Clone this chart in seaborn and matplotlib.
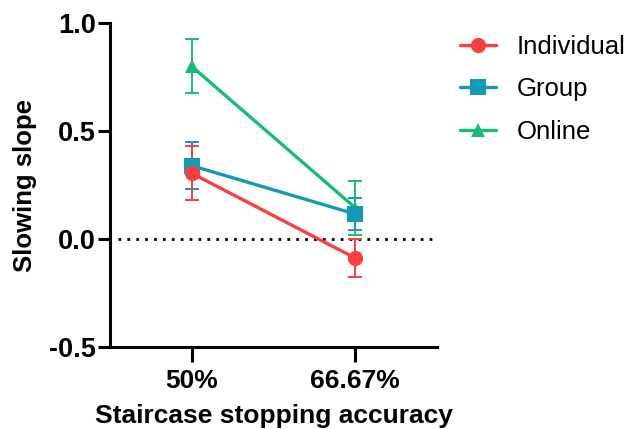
import numpy as np
import pandas as pd
import matplotlib
matplotlib.use("Agg")
import matplotlib.pyplot as plt
import seaborn as sns

accuracy = ["50%", "66.67%"]
groups = ["Online", "Group", "Individual"]
slope_individual = [0.305, -0.088]
err_individual = [0.125, 0.088]
slope_group = [0.34, 0.116]
err_group = [0.11, 0.075]
slope_online = [0.80, 0.145]
err_online = [0.125, 0.125]

colors = {"Individual": "#F8403F", "Group": "#1299B5", "Online": "#16BE75"}
markers = {"Individual": "o", "Group": "s", "Online": "^"}

df = pd.DataFrame({
    "accuracy": accuracy * 3,
    "slope": slope_online + slope_group + slope_individual,
    "err": err_online + err_group + err_individual,
    "group": np.repeat(groups, 2),
})

sns.set_style("ticks")
plt.rcParams["font.family"] = ["Liberation Sans", "DejaVu Sans"]
plt.rcParams.update({"text.color": "black", "axes.labelcolor": "black",
                     "xtick.color": "black", "ytick.color": "black",
                     "axes.edgecolor": "black"})

fig = plt.figure(figsize=(6.28, 4.29), dpi=100)
ax = fig.add_axes([0.175, 0.191, 0.521, 0.755])

ax.axhline(0, color="black", lw=2, ls=(0, (1, 2.2)), xmin=0.025, xmax=0.99, zorder=1)

for g in groups:
    sub = df[df["group"] == g]
    ax.errorbar(sub["accuracy"], sub["slope"], yerr=sub["err"], fmt="none",
                ecolor=colors[g], elinewidth=1.4, capsize=4.8, capthick=1.4, zorder=2)
    sns.lineplot(data=sub, x="accuracy", y="slope", color=colors[g], marker=markers[g],
                 markersize=11 if g != "Online" else 10, markeredgewidth=0, lw=2.4,
                 label=g, ax=ax, zorder=3)

ax.set_xlim(-0.5, 1.5)
ax.set_ylim(-0.5, 1.0)
ax.set_yticks([-0.5, 0.0, 0.5, 1.0])
ax.set_yticklabels(["-0.5", "0.0", "0.5", "1.0"])
for s in ["top", "right"]:
    ax.spines[s].set_visible(False)
for s in ["left", "bottom"]:
    ax.spines[s].set_linewidth(2.2)
ax.tick_params(axis="y", length=9, width=2.2, labelsize=19.5, pad=1)
ax.tick_params(axis="x", length=11, width=2.2, labelsize=19, pad=5)
for lab in ax.get_xticklabels() + ax.get_yticklabels():
    lab.set_fontweight("bold")

ax.set_xlabel("Staircase stopping accuracy", fontsize=19, fontweight="bold", labelpad=8)
ax.set_ylabel("Slowing slope", fontsize=18.5, fontweight="bold", labelpad=9)

handles, labels = ax.get_legend_handles_labels()
order = [labels.index(n) for n in ["Individual", "Group", "Online"]]
ax.legend([handles[i] for i in order], [labels[i] for i in order],
          loc="upper left", bbox_to_anchor=(1.0, 1.035), frameon=False,
          fontsize=18.5, handlelength=1.4, labelspacing=0.72, handletextpad=0.8)

fig.savefig("out.png", dpi=100)
